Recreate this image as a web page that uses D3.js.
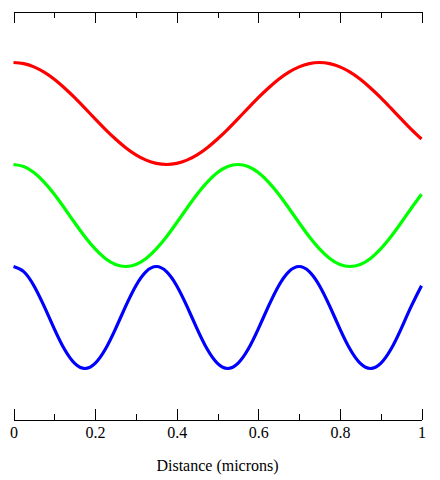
<!DOCTYPE html>
<html>
<head>
<meta charset="utf-8">
<script src="https://cdn.jsdelivr.net/npm/d3@7"></script>
<style>
  body { margin: 0; background: #fff; }
</style>
</head>
<body>
<div class="visHolder"></div>
<script>
// distance along x, in microns
const distance = [0, 0.025, 0.05, 0.075, 0.1, 0.125, 0.15, 0.175, 0.2, 0.225,
                  0.25, 0.275, 0.3, 0.325, 0.35, 0.375, 0.4, 0.425, 0.45, 0.475,
                  0.5, 0.525, 0.55, 0.575, 0.6, 0.625, 0.65, 0.675, 0.7, 0.725,
                  0.75, 0.775, 0.8, 0.825, 0.85, 0.875, 0.9, 0.925, 0.95, 0.975, 1];

// values (stacked, one unit apart)
const redValues = [3.000, 2.989, 2.957, 2.905, 2.835, 2.750, 2.655, 2.552, 2.448, 2.345,
                   2.250, 2.165, 2.095, 2.043, 2.011, 2.000, 2.011, 2.043, 2.095, 2.165,
                   2.250, 2.345, 2.448, 2.552, 2.655, 2.750, 2.835, 2.905, 2.957, 2.989,
                   3.000, 2.989, 2.957, 2.905, 2.835, 2.750, 2.655, 2.552, 2.448, 2.345, 2.250];

const greenValues = [2.000, 1.980, 1.921, 1.827, 1.708, 1.571, 1.429, 1.292, 1.173, 1.079,
                     1.020, 1.000, 1.020, 1.079, 1.173, 1.292, 1.429, 1.571, 1.708, 1.827,
                     1.921, 1.980, 2.000, 1.980, 1.921, 1.827, 1.708, 1.571, 1.429, 1.292,
                     1.173, 1.079, 1.020, 1.000, 1.020, 1.079, 1.173, 1.292, 1.429, 1.571, 1.708];

const blueValues = [1.000, 0.950, 0.812, 0.611, 0.389, 0.188, 0.050, 0.000, 0.050, 0.188,
                    0.389, 0.611, 0.812, 0.950, 1.000, 0.950, 0.812, 0.611, 0.389, 0.188,
                    0.050, 0.000, 0.050, 0.188, 0.389, 0.611, 0.812, 0.950, 1.000, 0.950,
                    0.812, 0.611, 0.389, 0.188, 0.050, 0.000, 0.050, 0.188, 0.389, 0.611, 0.812];

const majorTicks = [0, 0.2, 0.4, 0.6, 0.8, 1];
const minorTicks = [0.1, 0.3, 0.5, 0.7, 0.9];
const xLabel = "Distance (microns)";

let w = 440;
let h = 480;

const svg = d3.select(".visHolder")
              .append("svg")
              .attr("width", w)
              .attr("height", h);

const xScale = d3.scaleLinear()
                 .domain([0, 1])
                 .range([13.5, 421.5]);

const yScale = d3.scaleLinear()
                 .domain([-0.5, 3.5])
                 .range([419.5, 11.5]);

// bottom axis, ticks pointing inward
svg.append("g")
   .attr("transform", "translate(0, 419.5)")
   .call(d3.axisBottom(xScale)
           .tickValues(majorTicks)
           .tickSizeInner(-11)
           .tickSizeOuter(0)
           .tickPadding(7)
           .tickFormat(d3.format("")))
   .call(g => g.selectAll("text")
               .style("font-family", "Liberation Serif")
               .style("font-size", "16px")
               .attr("fill", "#000"));

svg.append("g")
   .attr("transform", "translate(0, 419.5)")
   .call(d3.axisBottom(xScale)
           .tickValues(minorTicks)
           .tickSizeInner(-6)
           .tickSizeOuter(0)
           .tickFormat(""));

// top axis
svg.append("g")
   .attr("transform", "translate(0, 11.5)")
   .call(d3.axisTop(xScale)
           .tickValues(majorTicks)
           .tickSizeInner(-11)
           .tickSizeOuter(0)
           .tickFormat(""));

svg.append("g")
   .attr("transform", "translate(0, 11.5)")
   .call(d3.axisTop(xScale)
           .tickValues(minorTicks)
           .tickSizeInner(-6)
           .tickSizeOuter(0)
           .tickFormat(""));

svg.selectAll(".domain, .tick line")
   .attr("stroke", "#000")
   .attr("stroke-width", 1)
   .attr("shape-rendering", "crispEdges");

const line = d3.line()
               .x((d, i) => xScale(distance[i]))
               .y(d => yScale(d))
               .curve(d3.curveNatural);

const series = [
  { values: redValues, color: "#ff0000" },
  { values: greenValues, color: "#00ff00" },
  { values: blueValues, color: "#0000ff" }
];

svg.selectAll("path.curve")
   .data(series)
   .enter()
   .append("path")
   .attr("class", "curve")
   .attr("d", d => line(d.values))
   .attr("fill", "none")
   .attr("stroke", d => d.color)
   .attr("stroke-width", 3.2);

svg.append("text")
   .attr("x", xScale(0.5))
   .attr("y", 471)
   .attr("text-anchor", "middle")
   .style("font-family", "Liberation Serif")
   .style("font-size", "16px")
   .text(xLabel);
</script>
</body>
</html>
